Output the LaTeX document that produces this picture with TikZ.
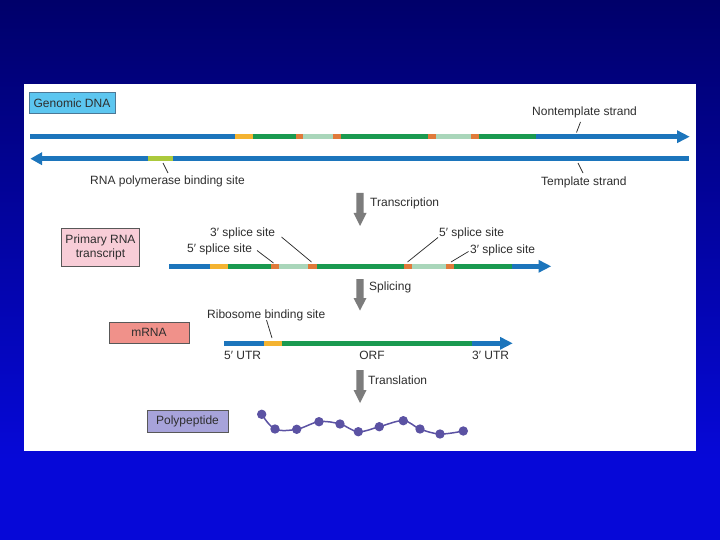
\documentclass[tikz,border=0pt]{standalone}
\usepackage{fontspec}
\setmainfont{Liberation Sans}
\definecolor{bgtop}{HTML}{00006A}
\definecolor{bgbot}{HTML}{0608D8}
\definecolor{dnablue}{HTML}{1C75BC}
\definecolor{exgreen}{HTML}{1A9A50}
\definecolor{utryel}{HTML}{F4B330}
\definecolor{sporg}{HTML}{E07A3A}
\definecolor{intron}{HTML}{A9D6BA}
\definecolor{promo}{HTML}{ABC93C}
\definecolor{txt}{HTML}{2E2E2E}
\definecolor{garrow}{HTML}{7C7C7C}
\definecolor{pep}{HTML}{5B52A3}
\definecolor{gdnafill}{HTML}{5CC6F0}
\definecolor{gdnaline}{HTML}{4C7896}
\definecolor{prifill}{HTML}{F8CDD7}
\definecolor{mrnafill}{HTML}{F0918A}
\definecolor{pepfill}{HTML}{A7A3DA}
\tikzset{
  lbl/.style={anchor=west, inner sep=0pt, font=\fontsize{12}{14}\selectfont, text=txt},
  tagbox/.style={draw=#1, line width=1pt, inner sep=0pt, align=center, font=\fontsize{12}{14}\selectfont, text=txt},
  leader/.style={draw=txt, line width=0.75pt},
  strand/.style={line width=4.4pt},
  bigarrow/.style={fill=garrow},
}
\newcommand\seg[4]{\draw[strand,#4] (#1,#3) -- (#2,#3);}
\newcommand\headR[3]{\fill[#3] (#1,#2-6.5) -- (#1+12.5,#2) -- (#1,#2+6.5) -- cycle;}
\newcommand\headL[3]{\fill[#3] (#1,#2-6.5) -- (#1-11.5,#2) -- (#1,#2+6.5) -- cycle;}
\newcommand\garrowshape[4]{\fill[bigarrow] (#1-3.6,#2) -- (#1+3.6,#2) -- (#1+3.6,#3) -- (#1+6.5,#3) -- (#1,#4) -- (#1-6.5,#3) -- (#1-3.6,#3) -- cycle;}
\begin{document}
\begin{tikzpicture}[x=1pt,y=-1pt]
\useasboundingbox (0,0) rectangle (720,540);
\shade[top color=bgtop, bottom color=bgbot] (0,0) rectangle (720,460);
\fill[bgbot] (0,459) rectangle (720,540);
\fill[white] (24,84) rectangle (696,451);

% ---------- Genomic DNA ----------
\node[tagbox=gdnaline, fill=gdnafill, minimum width=86, minimum height=21] (gdna) at (72,103.5) {Genomic DNA};

% nontemplate strand
\seg{30}{235.5}{136.7}{dnablue}
\seg{235}{253}{136.7}{utryel}
\seg{252.5}{296.5}{136.7}{exgreen}
\seg{296}{303.5}{136.7}{sporg}
\seg{303}{333.5}{136.7}{intron}
\seg{333}{341.5}{136.7}{sporg}
\seg{341}{428.5}{136.7}{exgreen}
\seg{428}{436.5}{136.7}{sporg}
\seg{436}{471.5}{136.7}{intron}
\seg{471}{479.5}{136.7}{sporg}
\seg{479}{536.5}{136.7}{exgreen}
\seg{536}{677.5}{136.7}{dnablue}
\headR{677}{136.7}{dnablue}

% template strand
\seg{41}{148.5}{158.7}{dnablue}
\seg{148}{173}{158.7}{promo}
\seg{172.5}{689}{158.7}{dnablue}
\headL{42}{158.7}{dnablue}

\node[lbl] (nts) at (532,112) {Nontemplate strand};
\coordinate (ntsA) at (580.5,122);
\coordinate (ntsB) at (576.5,132.5);
\draw[leader] (ntsA) -- (ntsB);

\node[lbl] (ts) at (541,182) {Template strand};
\coordinate (tsA) at (578,163);
\coordinate (tsB) at (583,173);
\draw[leader] (tsA) -- (tsB);

\node[lbl] (rnap) at (90,181) {RNA polymerase binding site};
\coordinate (rnapA) at (163,163);
\coordinate (rnapB) at (168,173);
\draw[leader] (rnapA) -- (rnapB);

% ---------- Transcription ----------
\garrowshape{360}{193}{213}{226}
\node[lbl] (trans) at (370,203) {Transcription};

\node[tagbox=txt!80, fill=prifill, minimum width=78, minimum height=37] (prim) at (100.5,247.5) {Primary RNA\\transcript};

\seg{169}{210.5}{266.3}{dnablue}
\seg{210}{228.5}{266.3}{utryel}
\seg{228}{271.5}{266.3}{exgreen}
\seg{271}{279.5}{266.3}{sporg}
\seg{279}{308.5}{266.3}{intron}
\seg{308}{317}{266.3}{sporg}
\seg{316.5}{404.5}{266.3}{exgreen}
\seg{404}{412}{266.3}{sporg}
\seg{411.5}{446.5}{266.3}{intron}
\seg{446}{454.5}{266.3}{sporg}
\seg{454}{512.5}{266.3}{exgreen}
\seg{512}{539}{266.3}{dnablue}
\headR{538.5}{266.3}{dnablue}

\node[lbl] (ss3a) at (210,233) {3′ splice site};
\coordinate (ss3aA) at (281.5,237);
\coordinate (ss3aB) at (311.5,262);
\draw[leader] (ss3aA) -- (ss3aB);

\node[lbl] (ss5a) at (187,249.5) {5′ splice site};
\coordinate (ss5aA) at (257,250.5);
\coordinate (ss5aB) at (273.5,263);
\draw[leader] (ss5aA) -- (ss5aB);

\node[lbl] (ss5b) at (439,233) {5′ splice site};
\coordinate (ss5bA) at (438,237.5);
\coordinate (ss5bB) at (407.5,262);
\draw[leader] (ss5bA) -- (ss5bB);

\node[lbl] (ss3b) at (470,250) {3′ splice site};
\coordinate (ss3bA) at (468.5,251.5);
\coordinate (ss3bB) at (451,262);
\draw[leader] (ss3bA) -- (ss3bB);

% ---------- Splicing ----------
\garrowshape{360}{279}{298}{310.5}
\node[lbl] (spl) at (369,287.5) {Splicing};

\node[tagbox=txt!80, fill=mrnafill, minimum width=80, minimum height=21] (mrna) at (149,332.5) {mRNA};

\seg{224}{264.5}{343.3}{dnablue}
\seg{264}{282}{343.3}{utryel}
\seg{281.5}{472.5}{343.3}{exgreen}
\seg{472}{500.5}{343.3}{dnablue}
\headR{500}{343.3}{dnablue}

\node[lbl] (rbs) at (207,315) {Ribosome binding site};
\coordinate (rbsA) at (266.5,320);
\coordinate (rbsB) at (272,338);
\draw[leader] (rbsA) -- (rbsB);

\node[lbl] (utr5) at (224,355.5) {5′ UTR};
\node[lbl, anchor=center] (orf) at (372,355.5) {ORF};
\node[lbl] (utr3) at (472,355.5) {3′ UTR};

% ---------- Translation ----------
\garrowshape{360}{370}{390}{403}
\node[lbl] (transl) at (368,380.5) {Translation};

\node[tagbox=txt!80, fill=pepfill, minimum width=81, minimum height=22] (poly) at (187.5,421.8) {Polypeptide};

\draw[pep, line width=1.5pt] plot[smooth, tension=0.6] coordinates {(261.7,414.3) (275,429) (296.7,429.3) (319,421.7) (340,424) (358.3,431.7) (379.3,426.7) (403.3,420.7) (420,429) (440,434) (463.3,431)};
\foreach \p [count=\i] in {(261.7,414.3),(275,429),(296.7,429.3),(319,421.7),(340,424),(358.3,431.7),(379.3,426.7),(403.3,420.7),(420,429),(440,434),(463.3,431)}
  \fill[pep] \p circle (4.7);
\end{tikzpicture}
\end{document}
